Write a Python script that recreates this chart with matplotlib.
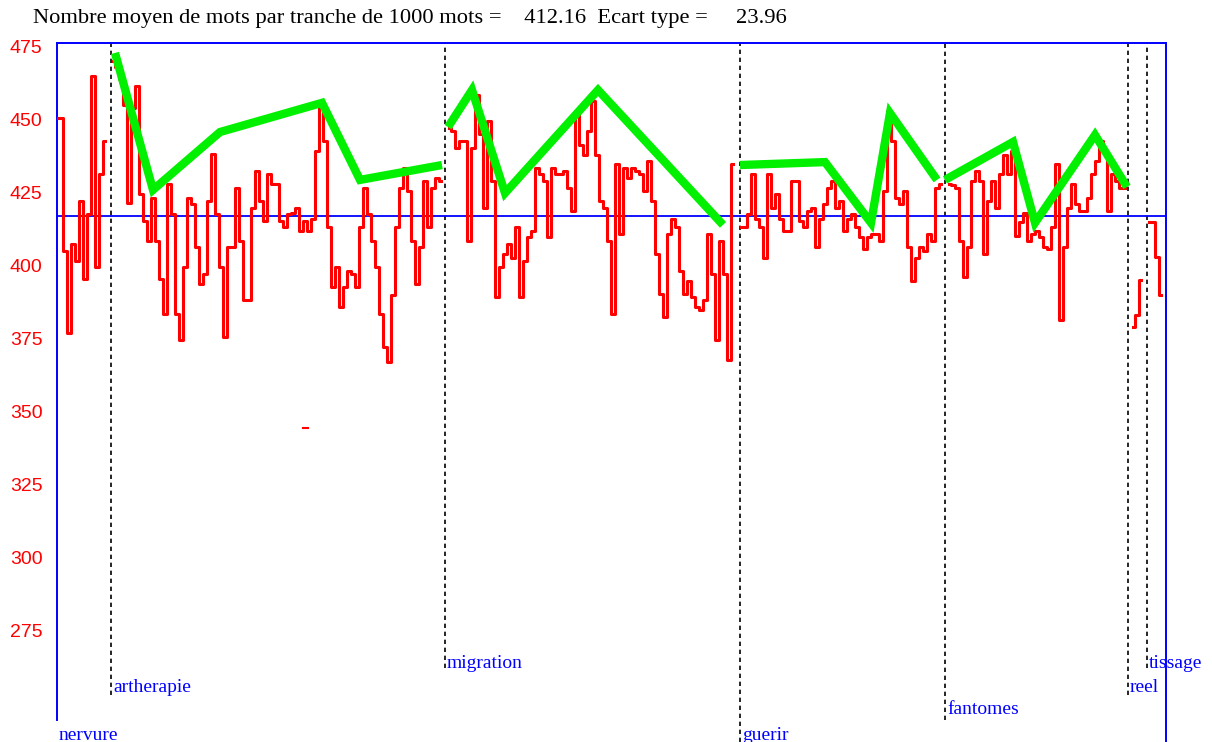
import numpy as np
import matplotlib
matplotlib.use("Agg")
import matplotlib.pyplot as plt
from matplotlib.lines import Line2D

# ==========================================
# DATA (one value per step along the text)
# ==========================================
TITLE = "Nombre moyen de mots par tranche de 1000 mots =    412.16  Ecart type =     23.96"

mean_line = 416.9

# section names, start position, label level (0 = lowest)
sections = ["nervure", "artherapie", "migration", "guerir", "fantomes", "reel", "tissage"]
section_starts = [0, 13.5, 97, 170.75, 222, 267.75, 272.5]
label_levels = [0, 2, 3, 0, 1, 2, 3]

# red series, one list per section, with the index of its first value
nervure_start = 0
nervure_vals = [450.5, 450.5, 405, 377, 407.3, 401.6, 422, 395.4, 417.7, 464.8,
                399.3, 431.3, 442.6]

artherapie_start = 14
artherapie_vals = [470, 468, 464, 455, 421.5, 454, 461.3, 424.5, 415.3, 408.4,
                   423.2, 408.4, 395.5, 383.5, 427.9, 417.7, 383.5, 374.3, 399.3, 423.2,
                   421, 406.2, 393.8, 397.2, 422, 438.1, 417.7, 399.3, 375.4, 406.2,
                   406.2, 426.6, 408.4, 388, 388, 419.8, 432.3, 422, 415.3, 431.2,
                   427.9, 428, 415.3, 413, 417.7, 418, 419.8, 411.9, 415.3, 411.9,
                   416, 439.2, 455.2, 442.6, 413, 392.5, 399.3, 385.7, 392.5, 398.2,
                   397.2, 392.5, 413, 426.6, 417.7, 408.4, 399.3, 383.5, 372, 367,
                   390, 413, 426.6, 433.5, 425.5, 408.4, 393.8, 406.2, 428.9, 413,
                   426.6, 430, 428.9]

migration_start = 98
migration_vals = [447.1, 446, 440.3, 442.6, 442.6, 408.4, 440.3, 458.5, 445, 419.8,
                  449.4, 428.9, 389.1, 399.3, 403.9, 407.3, 402.7, 413, 389.1, 401.6,
                  409.6, 411.9, 433.5, 431.2, 428.9, 409.6, 433.5, 431.2, 431.2, 432.3,
                  426.6, 418.7, 452.8, 441.4, 438, 446, 456.2, 438, 422, 419.8,
                  408.4, 383.5, 434.6, 410.7, 433.5, 430, 433.5, 432.3, 431.2, 425.5,
                  435.8, 422, 403.9, 390.2, 382.3, 410.7, 416, 413, 398.2, 390.2,
                  394.8, 389.1, 385.7, 384.6, 388, 410.7, 397.2, 374.3, 408.4, 397.2,
                  367.5, 434.7]

guerir_start = 171
guerir_vals = [413, 413, 417.7, 431.2, 416, 413, 402.7, 431.2, 419.8, 424.5,
               416, 411.9, 411.9, 428.9, 428.9, 415.3, 413, 418.7, 419.8, 406.2,
               416, 421, 426.6, 428.9, 419.8, 422, 411.9, 416, 417.7, 413,
               409.6, 405.6, 409.6, 410.7, 410.7, 408.4, 425.5, 452.8, 442.6, 423.2,
               421, 425.5, 406.2, 394.8, 402.7, 406.2, 405, 410.7, 408.4, 426.6,
               427.9]

fantomes_start = 223
fantomes_vals = [427.8, 427.4, 426.6, 408.4, 396, 406.2, 428.9, 432.3, 428.9, 403.9,
                 422, 428.9, 419.8, 431.2, 438, 431.2, 439.2, 410, 415, 418,
                 408.4, 410.7, 411.9, 409.6, 406.2, 405.6, 413, 434.7, 381.2, 406.2,
                 419.8, 427.9, 421, 418.7, 418.7, 423.2, 431.2, 435.8, 442.6, 439.2,
                 418.7, 431.2, 428.9, 426.6, 426.6]

reel_start = 269
reel_vals = [379, 383, 395]

tissage_start = 273
tissage_vals = [415, 415, 403, 390]

# small stray red dash in the middle of the plot
stray_x = [61.5, 62.8]
stray_y = [344.3, 344.3]

# green trend lines, one polyline per section
green_art_x = [14.5, 24, 40.75, 66.25, 75.75, 96.25]
green_art_y = [472.8, 425.9, 445.7, 455.7, 429.3, 434.4]
green_mig_x = [97.75, 103.75, 112, 135.25, 166.5]
green_mig_y = [447.4, 460.1, 424.8, 460.1, 413.9]
green_gue_x = [170.75, 192, 203.5, 208.25, 220]
green_gue_y = [434.4, 435.4, 414.6, 452.2, 429.3]
green_fan_x = [222, 239, 244.5, 259.5, 267.5]
green_fan_y = [429.3, 442.3, 414.6, 444.7, 426.9]

y_ticks = [275, 300, 325, 350, 375, 400, 425, 450, 475]

# ==========================================
# PLOT
# ==========================================
W, H = 1212, 742
fig = plt.figure(figsize=(W / 100, H / 100), dpi=100)
fig.patch.set_facecolor("white")

ax_left, ax_right, ax_top, ax_bottom = 57, 1166, 42.7, 720
ax = fig.add_axes([ax_left / W, 1 - ax_bottom / H,
                   (ax_right - ax_left) / W, (ax_bottom - ax_top) / H])
ax.set_xlim(0, (ax_right - ax_left) / 4)
ax.set_ylim(244.3, 476.3)

blue = "#0000ff"
red = "#ff0000"
green = "#00f000"

for name in ["bottom", "right"]:
    ax.spines[name].set_visible(False)
for name in ["left", "top"]:
    ax.spines[name].set_color(blue)
    ax.spines[name].set_linewidth(1.4)
# right border runs down to the bottom of the figure
fig.add_artist(Line2D([ax_right / W, ax_right / W], [0, 1 - ax_top / H],
                      color=blue, linewidth=1.4))

ax.set_xticks([])
ax.set_yticks(y_ticks)
ax.set_yticklabels([str(t) for t in y_ticks])
ax.tick_params(axis="y", length=0, pad=34, labelcolor=red, labelsize=14)
for lab in ax.get_yticklabels():
    lab.set_horizontalalignment("left")
    lab.set_fontfamily("Liberation Sans")

# mean line
ax.axhline(mean_line, color=blue, linewidth=1.3, zorder=2)

# red series (stair-stepped like the original)
series = [(nervure_start, nervure_vals), (artherapie_start, artherapie_vals),
          (migration_start, migration_vals), (guerir_start, guerir_vals),
          (fantomes_start, fantomes_vals), (reel_start, reel_vals),
          (tissage_start, tissage_vals)]
for start, vals in series:
    xs = start + np.arange(len(vals))
    ax.plot(xs, vals, color=red, linewidth=2.2, drawstyle="steps-mid", zorder=3)
ax.plot(stray_x, stray_y, color=red, linewidth=1.5, zorder=3)

# green trend lines
for gx, gy in [(green_art_x, green_art_y), (green_mig_x, green_mig_y),
               (green_gue_x, green_gue_y), (green_fan_x, green_fan_y)]:
    ax.plot(gx, gy, color=green, linewidth=6, solid_capstyle="butt",
            solid_joinstyle="miter", zorder=4)

# section separators and labels
trans = ax.get_xaxis_transform()
ax_h = ax_bottom - ax_top
level_line_end = [742, 720, 695, 668]
level_label_y = [735, 710, 688, 664]
for name, start, lvl in zip(sections, section_starts, label_levels):
    if start > 0:
        ymin = (ax_bottom - level_line_end[lvl]) / ax_h
        ax.plot([start, start], [ymin, 1], transform=trans, color="black",
                linewidth=1.2, linestyle=(0, (2.6, 2.2)), clip_on=False, zorder=1)
    ylab = (ax_bottom - level_label_y[lvl]) / ax_h
    ax.text(start + 0.5, ylab, name, transform=trans, color=blue,
            fontsize=14, fontfamily="Liberation Serif", ha="left", va="center",
            clip_on=False)

fig.text(33 / W, 1 - 19 / H, TITLE, fontsize=16.2, fontfamily="Liberation Serif",
         ha="left", va="center", color="black")

fig.savefig("out.png", dpi=100, facecolor="white")
